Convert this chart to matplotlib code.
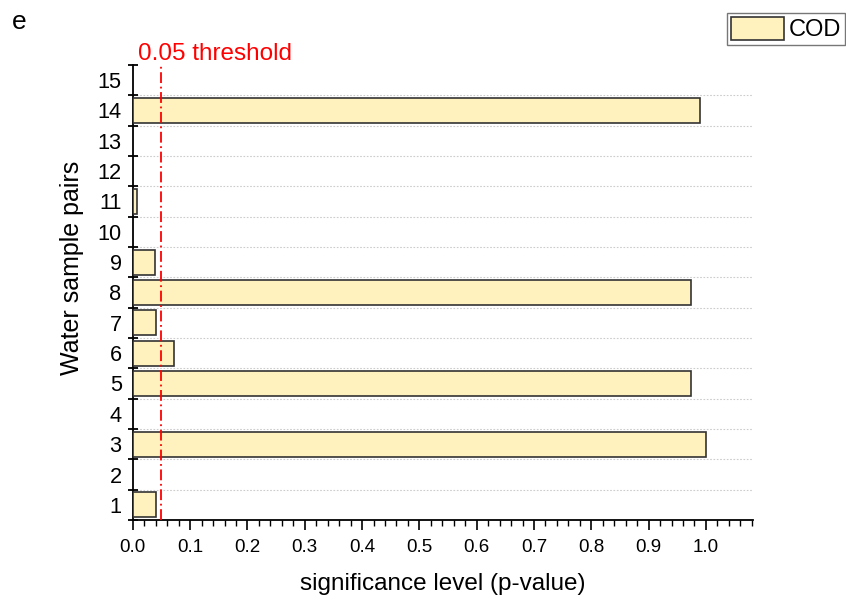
import numpy as np
import matplotlib.pyplot as plt
from matplotlib.ticker import MultipleLocator

plt.rcParams['font.family'] = ['Liberation Sans', 'DejaVu Sans']

# Data
pairs = [1, 3, 5, 6, 7, 8, 9, 11, 14]
p_values = [0.040, 1.000, 0.974, 0.072, 0.040, 0.974, 0.038, 0.007, 0.990]
threshold = 0.05
y_labels = [str(i) for i in range(1, 16)]

fig = plt.figure(figsize=(8.46, 5.96), dpi=100)
ax = fig.add_axes([0.157, 0.1275, 0.733, 0.7635])

ax.barh(pairs, p_values, height=0.82, color='#FFF2BF', edgecolor='#333333',
        linewidth=1.2, label='COD', zorder=3)

# threshold line
ax.axvline(threshold, color='#FF0000', linestyle=(0, (6, 2, 1, 2)), linewidth=1.3, zorder=4)
ax.text(0.009, 15.68, '0.05 threshold', color='#FF0000', fontsize=17.5,
        ha='left', va='baseline')

ax.set_xlim(0, 1.082)
ax.set_ylim(0.5, 15.5)

# x ticks
xt = np.arange(0, 1.01, 0.1)
ax.set_xticks(xt)
ax.set_xticklabels([f'{v:.1f}' for v in xt])
ax.xaxis.set_minor_locator(MultipleLocator(0.02))
ax.tick_params(axis='x', which='major', direction='out', length=7, width=1.2,
               labelsize=13.5, pad=7)
ax.tick_params(axis='x', which='minor', direction='out', length=4, width=1.0)

# y ticks: marks at boundaries, labels at centres
ax.set_yticks(np.arange(0.5, 15.6, 1.0))
ax.set_yticklabels([])
ax.set_yticks(np.arange(1, 16), minor=True)
ax.set_yticklabels(y_labels, minor=True)
ax.tick_params(axis='y', which='major', direction='inout', length=6.5, width=1.3)
ax.tick_params(axis='y', which='minor', length=0, labelsize=15.7, pad=8)

# dotted separators between pairs
ax.hlines(np.arange(1.5, len(y_labels), 1.0), 0, 1.08, color='#CCCCCC',
          linestyle=(0, (1.5, 1.5)), linewidth=0.8, zorder=0)

for s in ['top', 'right']:
    ax.spines[s].set_visible(False)
for s in ['left', 'bottom']:
    ax.spines[s].set_linewidth(1.3)

ax.set_xlabel('significance level (p-value)', fontsize=17.5, labelpad=12)
ax.set_ylabel('Water sample pairs', fontsize=18)
ax.yaxis.set_label_coords(-0.078, 0.555)

fig.text(0.014, 0.952, 'e', fontsize=19)

fig.legend(loc='upper left', bbox_to_anchor=(0.859, 0.979), fontsize=17,
           frameon=True, fancybox=False, edgecolor='#555555',
           handlelength=2.25, handleheight=1.15, borderpad=0.17,
           handletextpad=0.2, borderaxespad=0)

fig.savefig('out.png', dpi=100)
